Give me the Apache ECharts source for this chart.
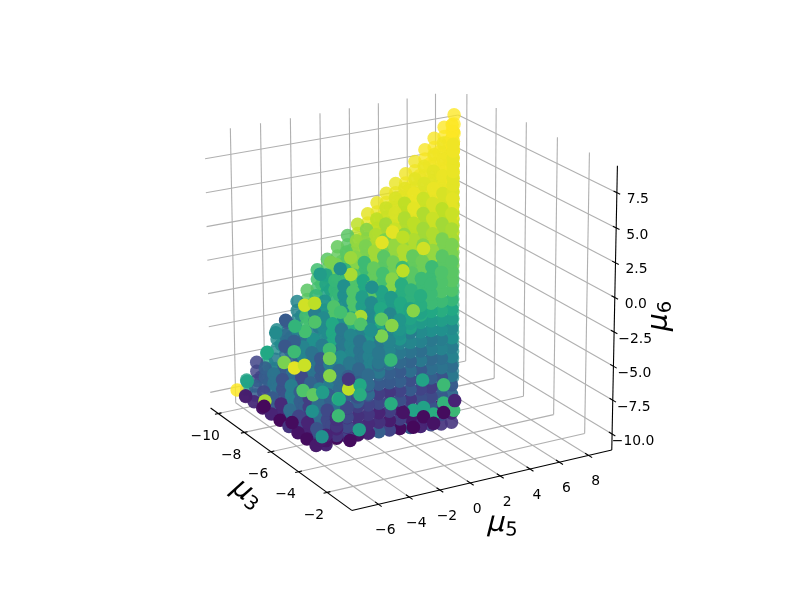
<!DOCTYPE html>
<html><head><meta charset="utf-8">
<style>html,body{margin:0;padding:0;background:#fff}#c{width:800px;height:600px}</style>
<script src="https://cdn.jsdelivr.net/npm/echarts@6/dist/echarts.min.js"></script>
</head><body><div id="c"></div>
<script>
// axis limits
const lim3=[-10.6,-0.3], lim5=[-7.7,9.6], lim6=[-11.2,9.4];
const ticks3=[-10,-8,-6,-4,-2], ticks5=[-6,-4,-2,0,2,4,6,8], ticks6=[-10,-7.5,-5,-2.5,0,2.5,5,7.5];
// lattice levels
const mu3Levels=[-10,-9.35,-8.7,-8.05,-7.4,-6.75,-6.1,-5.45,-4.8,-4.15];
const mu5Levels=[-6.4,-5.75,-5.05,-4.35,-3.65,-2.95,-2.25,-1.55,-0.85,-0.15,0.55,1.25,1.95,2.65,3.3,3.95,4.6,5.3,5.95,6.65,7.3,8,8.7];
// upper surface height for each mu5 level
const mu6Top=[-9.7,-9.1,-7.9,-7.4,-5.75,-5.35,-3.9,-3.2,-1.8,-1.15,-0.35,0.35,1.05,1.7,2.4,3,3.6,4.2,5,5.75,6.5,7.2,8];
// lowest front point for each mu5 level, and the rise of each row above it
const mu6Floor=[-9.5,-9.5,-9.5,-9.55,-9.6,-9.65,-9.7,-9.75,-9.8,-9.9,-10,-10.05,-10.15,-10.2];
const mu6Rise=[0,0.7,1.4,2.1,2.8,3.5,4.2,4.9,5.6,6.3,7,7.7,8.4,9.1,9.8,10.5];
// colour value (0-100) of upper surface: row per mu5 level, entry per mu3 level
const topShade=[
[100,8,12,5,10,2,15,5,3,7],
[58,30,22,28,12,35,20,10,25,10],
[20,30,38,25,42,30,18,35,22,15],
[60,42,28,36,22,32,44,30,38,22],
[48,36,32,45,38,28,42,35,30,30],
[28,45,38,50,42,36,48,40,33,35],
[46,70,42,48,60,40,46,38,44,40],
[74,66,52,72,50,62,44,52,40,45],
[70,58,66,50,72,56,48,60,46,52],
[74,80,66,72,60,74,58,54,60,58],
[76,74,82,68,76,70,82,62,64,62],
[74,84,80,86,74,78,68,74,68,68],
[90,82,88,80,84,88,76,78,68,72],
[96,90,86,92,84,88,82,84,74,74],
[97,92,94,88,90,86,88,80,80],
[97,94,90,96,88,92,86,87],
[97,96,97,92,94,90,92],
[98,96,95,97,94,96],
[98,97,96,97,98],
[99,98,98,98],
[99,98,99],
[100,99],
[100]];
// colour value of the front face: row per mu5 level, entry per row above the floor
const frontShade=[
[],[6],[3,10,14],[20,12,16,20],[5,14,14,18,24],[10,12,16,20,25,28],
[30,14,10,22,18,28,32,35],[20,8,18,22,16,28,30,36,42],
[3,18,8,24,20,30,28,34,40,44,50],[30,6,20,16,28,24,36,32,38,46,42,55],
[10,12,16,24,20,32,28,40,36,44,48,54,58],[20,8,26,22,18,30,36,34,42,40,50,54,60],
[15,22,6,28,32,26,38,36,44,42,50,56,62,68],[15,10,24,34,28,40,36,44,42,50,48,56,60,66,72,74]];
// wall along the far right edge: one column of mu3, mu5 with its mu6 levels and colours
const wallMu3=-7, wallMu5=5.6;
const wallMu6=[8,7.5,7,6.5,6,5.5,5,4.5,4,3.5,3,2.5,2,1.5,1,0.5,0,-0.5,-1,-1.5,-2,-2.5,-3,-3.5,-4,-4.5,-5,-5.5,-6,-6.5,-7,-7.5,-8,-8.5,-9,-9.5];
const wallShade=[98,98,97,97,97,96,96,95,94,93,91,90,89,88,85,83,81,79,77,75,72,70,68,66,64,62,60,58,56,54,52,50,48,46,44,42];
const crestMu3=-9, crestMu5=7.55;
const crestMu6=[8,7.5,7,6.5,6,5.5];
const crestShade=[100,100,99,99,98,98];
// scattered points that stand out from their surroundings: mu3, mu5, mu6, colour
const strayMu3=[-4.9,-4.2,-6.3,-4.2,-4.9,-5.63,-7.04,-5.7,-6.37,-7.7,-5.7,-6.45,-5.7,-4.97,-9.26,-5.1,-4.38,-7.93,-9.4,-8,-5.93,-3.86,-3.7,-3.7,-3.7,-3.7,-3.7,-3.7,-3.7,-3.7,-3.7,-3.7,-3.7,-3.7,-3.7,-3.7,-3.7,-3.7,-3.7,-3.7,-3.7,-3.7,-3.7,-3.7,-3.7,-3.7,-3.7,-3.7,-3.7,-3.78,-4.45,-3.7,-3.7,-3.7,-3.7,-3.7,-3.7,-3.7,-3.7,-3.7,-3.7,-3.7,-3.7,-3.7,-3.7,-3.7,-3.7,-3.7,-3.7,-3.7,-3.7,-3.7];
const strayMu5=[-6.35,-6.35,-6.35,-6.35,-6.35,-6.35,-6.35,-6.35,-6.35,-6.35,-6.35,-6.35,-6.35,-6.35,-6.35,-6.35,-6.35,-6.35,-6.35,-6.35,-6.35,-6.35,-5.88,-5.88,-5.88,-0.38,-3.84,-4.52,-5.14,-2.48,-1.8,-3.84,-2.48,-3.16,-1.87,-4.66,-3.91,-3.91,-5.34,-5.34,1.66,0.24,1.66,2.34,0.98,-0.38,-1.87,0.3,-3.98,-6.35,-6.35,-6.35,-5.27,-1.06,0.3,1.66,2.41,-0.38,0.98,-4.59,-4.66,-2.42,-1.74,0.3,-1.06,-1.06,-4.46,-4.46,-5.75,-6.43,-5.14,-3.1];
const strayMu6=[0,0.6,-2,-0.75,-1.9,-2,-3.4,-3.2,-3.95,-5.3,-3.9,-5.2,-5.1,-4.4,-8.55,-6.35,-6.15,-9.1,-9.8,-9.55,-9.3,-9.1,-2.5,-3.15,-4.4,-0.95,-0.6,-0.6,0,-1.1,-1.7,-1.15,-2.3,-1.75,-4.2,-5.65,-5.55,-6.25,-6.2,-7.45,-6.85,-6.15,-8.2,-8.9,-8.85,-8.25,-7.4,-8.2,-8.8,-8.8,-7.4,-5.5,-6.25,-8.25,-8.9,-8.9,-8.2,-9.5,-9.55,-9.45,-4.95,4.4,5,3.4,4.5,2.1,2.55,3.75,3.7,3,3.1,1.35];
const strayShade=[93,90,28,72,70,65,48,30,27,60,68,80,96,92,58,72,75,87,8,2,3,7,68,78,82,82,87,75,70,75,82,72,80,50,66,90,60,62,65,68,68,58,65,68,62,58,62,57,55,50,50,55,60,5,3,3,10,2,5,3,15,96,96,93,90,90,87,85,80,55,50,50];

// camera calibration: [mu3,mu5,mu6,pixelX,pixelY]
const calib=[
[lim3[0],lim5[0],lim6[0],211,408],[lim3[1],lim5[0],lim6[0],351.5,510],[lim3[1],lim5[1],lim6[0],611.7,450.5],
[lim3[1],lim5[1],lim6[1],617.7,166],[lim3[0],lim5[0],7.5,205,157.7],[lim3[0],lim5[1],7.5,458,114],
[-6,lim5[0],lim6[0],272,453],[lim3[1],2,lim6[0],500,476],[lim3[1],lim5[1],0,614.7,296.7],
[lim3[0],-6,lim6[0],235,402],[lim3[0],-6,lim6[1],230,129],[lim3[0],8,lim6[1],436,95]];
const norm=(v,l)=>(v-l[0])/(l[1]-l[0]);
function solveCamera(){
  const A=[],b=[];
  calib.forEach(([m3,m5,m6,u,v])=>{
    const X=norm(m3,lim3),Y=norm(m5,lim5),Z=norm(m6,lim6);
    A.push([X,Y,Z,1,0,0,0,0,-u*X,-u*Y,-u*Z]);b.push(u);
    A.push([0,0,0,0,X,Y,Z,1,-v*X,-v*Y,-v*Z]);b.push(v);
  });
  const n=11,M=[];
  for(let r=0;r<n;r++){M.push([]);for(let c=0;c<=n;c++){let s=0;for(let k=0;k<A.length;k++)s+=A[k][r]*(c<n?A[k][c]:b[k]);M[r].push(s);}}
  for(let c=0;c<n;c++){
    let p=c;for(let r=c+1;r<n;r++)if(Math.abs(M[r][c])>Math.abs(M[p][c]))p=r;
    [M[c],M[p]]=[M[p],M[c]];
    for(let r=0;r<n;r++){if(r===c)continue;const f=M[r][c]/M[c][c];for(let k=c;k<=n;k++)M[r][k]-=f*M[c][k];}
  }
  return M.map((row,i)=>row[n]/row[i]);
}
const P=solveCamera();
function project(m3,m5,m6){
  const X=norm(m3,lim3),Y=norm(m5,lim5),Z=norm(m6,lim6);
  const w=P[8]*X+P[9]*Y+P[10]*Z+1;
  return [(P[0]*X+P[1]*Y+P[2]*Z+P[3])/w,(P[4]*X+P[5]*Y+P[6]*Z+P[7])/w];
}
// points
const pts=[];
const add=(a,b,c,t)=>{if(c>=-10.3)pts.push([a,b,c,t]);};
const under=(a,b,c,t)=>{if(c>=-9.85)pts.push([a,b,c,t]);};
topShade.forEach((row,j)=>row.forEach((t,i)=>{
  add(mu3Levels[i],mu5Levels[j],mu6Top[j],t);
  under(mu3Levels[i],mu5Levels[j],mu6Top[j]-0.7,t);
  under(mu3Levels[i],mu5Levels[j],mu6Top[j]-1.4,t);
  if(i<row.length-1)under((mu3Levels[i]+mu3Levels[i+1])/2,mu5Levels[j],mu6Top[j]-0.9,t);
}));
frontShade.forEach((row,j)=>row.forEach((t,m)=>add(mu3Levels[9],mu5Levels[j],mu6Floor[j]+mu6Rise[m],t)));
wallMu6.forEach((v,i)=>add(wallMu3,wallMu5,v,wallShade[i]));
crestMu6.forEach((v,i)=>add(crestMu3,crestMu5,v,crestShade[i]));
const depth=p=>(p[0]+10)*0.8-(p[1]+6.7)*0.45+(p[2]+10)*0.35;
pts.sort((a,b)=>depth(a)-depth(b));
strayMu3.forEach((v,i)=>add(v,strayMu5[i],strayMu6[i],strayShade[i]));
const dots=pts.map(p=>{
  const d=Math.max(0,Math.min(1,(depth(p)+1)/2.5));
  return {value:[...project(p[0],p[1],p[2]),p[3]],itemStyle:{opacity:0.75+0.25*d}};
});
// lines
const grid=[],axes=[],tickMarks=[];
const seg=(arr,a,b)=>arr.push({coords:[project(...a),project(...b)]});
const [x0,x1]=lim3,[y0,y1]=lim5,[z0,z1]=lim6;
ticks3.forEach(t=>{seg(grid,[t,y0,z0],[t,y1,z0]);seg(grid,[t,y1,z0],[t,y1,z1]);seg(tickMarks,[t,y0-0.22,z0],[t,y0+0.22,z0]);});
ticks5.forEach(t=>{seg(grid,[x1,t,z0],[x0,t,z0]);seg(grid,[x0,t,z0],[x0,t,z1]);seg(tickMarks,[x1+0.22,t,z0],[x1-0.22,t,z0]);});
ticks6.forEach(t=>{seg(grid,[x0,y0,t],[x0,y1,t]);seg(grid,[x0,y1,t],[x1,y1,t]);seg(tickMarks,[x1+0.2,y1,t],[x1-0.2,y1,t]);});
seg(axes,[x0,y0,z0],[x1,y0,z0]);seg(axes,[x1,y0,z0],[x1,y1,z0]);seg(axes,[x1,y1,z0],[x1,y1,z1]);
// labels
const fmtNum=(v,d)=>(v<0?'\u2212':'')+Math.abs(v).toFixed(d);
const labelSeries=(data,extra)=>({type:'scatter',symbolSize:0,silent:true,z:5,itemStyle:{opacity:1},data,label:Object.assign({show:true,position:'inside',color:'#000',fontFamily:'DejaVu Sans',fontSize:13.9},extra)});
const tickLabels=[];
ticks3.forEach(t=>tickLabels.push({value:project(t,y0,z0),name:fmtNum(t,0),label:{offset:[-13,23],formatter:fmtNum(t,0)}}));
ticks5.forEach(t=>tickLabels.push({value:project(x1,t,z0),name:fmtNum(t,0),label:{offset:[7,26],formatter:fmtNum(t,0)}}));
ticks6.forEach(t=>tickLabels.push({value:project(x1,y1,t),name:fmtNum(t,1),label:{offset:[21,7],formatter:fmtNum(t,1)}}));
const rich={m:{fontFamily:'DejaVu Sans',fontStyle:'italic',fontSize:28,color:'#000'},s:{fontFamily:'DejaVu Sans',fontSize:19.5,color:'#000',padding:[12,0,0,0]}};
const axisLabel=(pos,sub,rot)=>({value:pos,label:{formatter:'{m|\u03bc}{s|'+sub+'}',rotate:rot,rich}});
const viridis=['#440154','#482475','#414487','#355f8d','#2a788e','#21908d','#22a884','#44bf70','#7ad151','#bddf26','#fde725'];
const option={
  animation:false,
  grid:{left:0,right:0,top:0,bottom:0},
  xAxis:{type:'value',min:0,max:800,show:false},
  yAxis:{type:'value',min:0,max:600,inverse:true,show:false},
  visualMap:{show:false,type:'continuous',seriesIndex:3,dimension:2,min:0,max:100,inRange:{color:viridis}},
  series:[
    {type:'lines',coordinateSystem:'cartesian2d',silent:true,z:1,data:grid,lineStyle:{color:'#b0b0b0',width:1.1,opacity:1}},
    {type:'lines',coordinateSystem:'cartesian2d',silent:true,z:2,data:axes,lineStyle:{color:'#000',width:1.1,opacity:1}},
    {type:'lines',coordinateSystem:'cartesian2d',silent:true,z:2,data:tickMarks,lineStyle:{color:'#000',width:1.1,opacity:1}},
    {type:'scatter',z:3,symbol:'circle',symbolSize:13.5,silent:true,data:dots},
    labelSeries(tickLabels,{}),
    labelSeries([axisLabel([247,494],'3',-37),axisLabel([503,524],'5',-3),axisLabel([660,316],'6',90)],{})
  ]
};
echarts.init(document.getElementById('c')).setOption(option);
</script></body></html>
